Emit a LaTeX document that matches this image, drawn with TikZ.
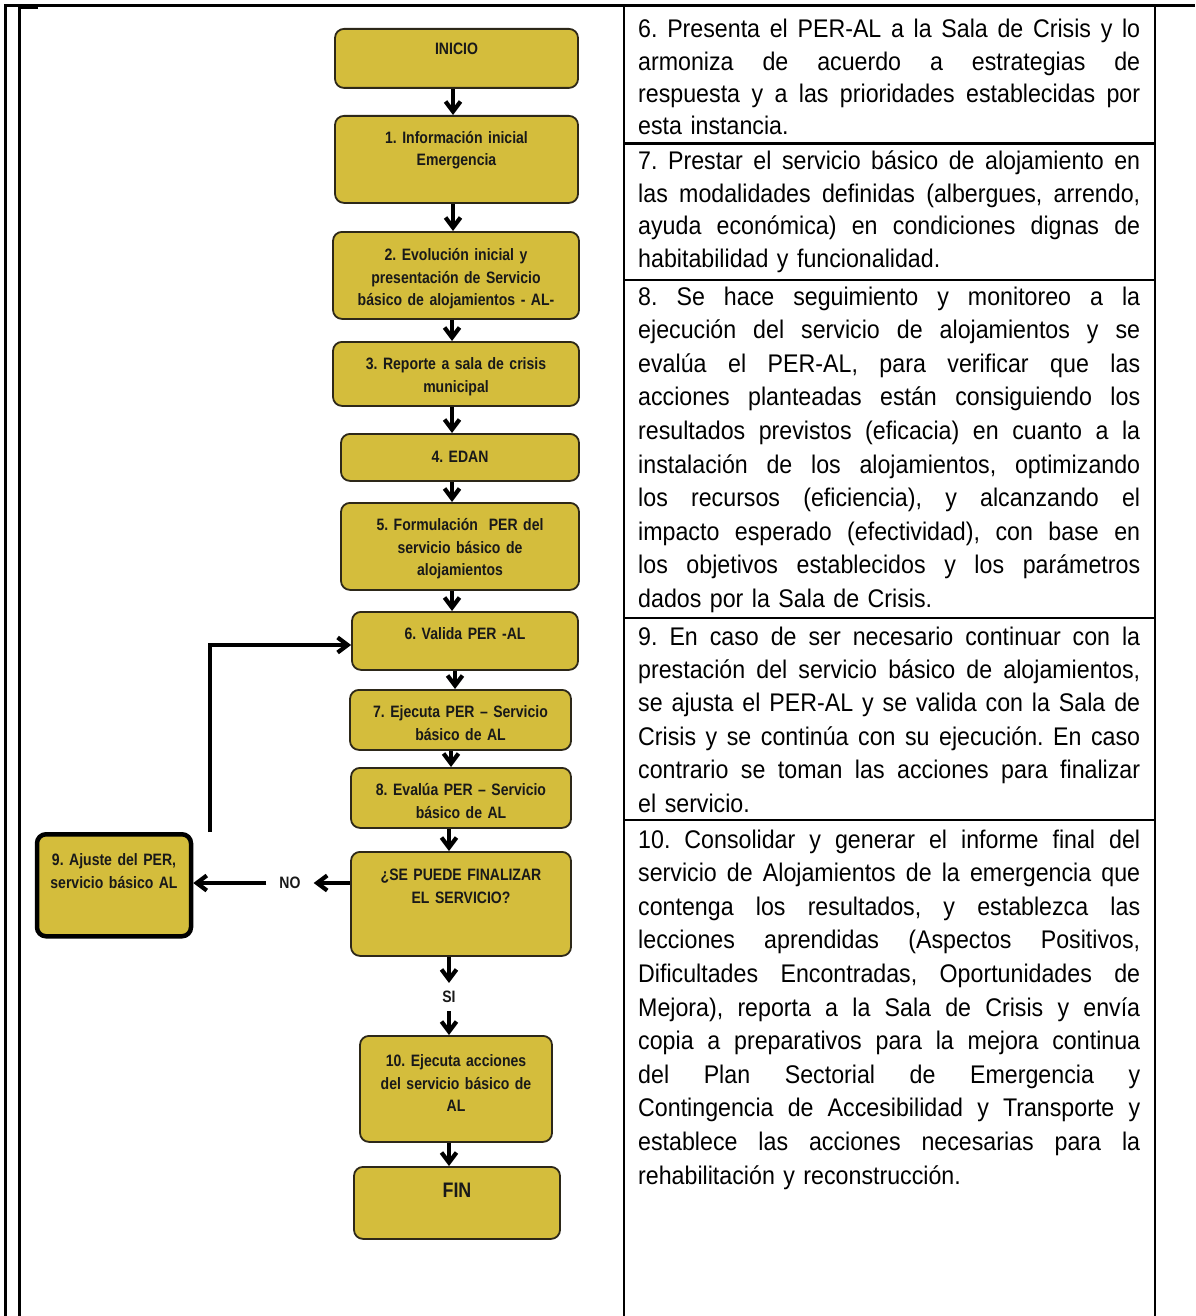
\documentclass[tikz,border=0pt]{standalone}
\usepackage{fontspec}
\setmainfont[FakeStretch=0.91]{Liberation Sans}
\newfontfamily\flowfont[FakeStretch=0.85]{Liberation Sans}
\usetikzlibrary{arrows.meta}
\definecolor{boxfill}{RGB}{212,189,60}
\definecolor{boxline}{RGB}{45,40,25}
\newcommand\jl[1]{\leavevmode\hbox to 502pt{\spaceskip=0.27em plus 1fil minus 0.08em\relax #1}\\}
\tikzset{
  fbox/.style={draw=boxline, fill=boxfill, line width=1.8pt, rounded corners=9pt,
    inner sep=0pt, anchor=north, align=center, text=black!90,
    font=\flowfont\bfseries\frenchspacing\fontsize{16.5}{22.6}\selectfont},
  arr/.style={line width=3.6pt, -{Straight Barb[length=10pt,width=15pt,line width=4.2pt]}},
  tline/.style={line width=3pt},
  cline/.style={line width=2.4pt},
  para/.style={anchor=base west, text width=502pt, inner sep=0pt, align=left,
    font=\frenchspacing\fontsize{25.5}{33.5}\selectfont},
  lab/.style={font=\flowfont\bfseries\fontsize{16.5}{20}\selectfont, text=black!90}
}
\begin{document}
\begin{tikzpicture}[x=1pt,y=-1pt]
\useasboundingbox (0,0) rectangle (1195,1316);
% table frame
\draw[tline] (4,6) -- (1195,6);
\draw[tline] (5,5) -- (5,1316);
\draw[tline] (19,6) -- (19,1316);
\draw[tline] (19,8) -- (38,8);
\draw[cline] (624,6) -- (624,1316);
\draw[cline] (1155,6) -- (1155,1316);
\draw[cline] (624,143.5) -- (1155,143.5);
\draw[cline] (624,280) -- (1155,280);
\draw[cline] (624,618) -- (1155,618);
\draw[cline] (624,820) -- (1155,820);
% right column text
\node[para, font=\frenchspacing\fontsize{25.5}{32.1}\selectfont] (p6) at (638,38) {\jl{6. Presenta el PER-AL a la Sala de Crisis y lo}\jl{armoniza de acuerdo a estrategias de}\jl{respuesta y a las prioridades establecidas por}esta instancia.};
\node[para, font=\frenchspacing\fontsize{25.5}{32.4}\selectfont] (p7) at (638,170) {\jl{7. Prestar el servicio básico de alojamiento en}\jl{las modalidades definidas (albergues, arrendo,}\jl{ayuda económica) en condiciones dignas de}habitabilidad y funcionalidad.};
\node[para, font=\frenchspacing\fontsize{25.5}{33.6}\selectfont] (p8) at (638,305) {\jl{8. Se hace seguimiento y monitoreo a la}\jl{ejecución del servicio de alojamientos y se}\jl{evalúa el PER-AL, para verificar que las}\jl{acciones planteadas están consiguiendo los}\jl{resultados previstos (eficacia) en cuanto a la}\jl{instalación de los alojamientos, optimizando}\jl{los recursos (eficiencia), y alcanzando el}\jl{impacto esperado (efectividad), con base en}\jl{los objetivos establecidos y los parámetros}dados por la Sala de Crisis.};
\node[para, font=\frenchspacing\fontsize{25.5}{33.4}\selectfont] (p9) at (638,645) {\jl{9. En caso de ser necesario continuar con la}\jl{prestación del servicio básico de alojamientos,}\jl{se ajusta el PER-AL y se valida con la Sala de}\jl{Crisis y se continúa con su ejecución. En caso}\jl{contrario se toman las acciones para finalizar}el servicio.};
\node[para, font=\frenchspacing\fontsize{25.5}{33.6}\selectfont] (p10) at (638,848) {\jl{10. Consolidar y generar el informe final del}\jl{servicio de Alojamientos de la emergencia que}\jl{contenga los resultados, y establezca las}\jl{lecciones aprendidas (Aspectos Positivos,}\jl{Dificultades Encontradas, Oportunidades de}\jl{Mejora), reporta a la Sala de Crisis y envía}\jl{copia a preparativos para la mejora continua}\jl{del Plan Sectorial de Emergencia y}\jl{Contingencia de Accesibilidad y Transporte y}\jl{establece las acciones necesarias para la}rehabilitación y reconstrucción.};
% flowchart boxes
\node[fbox, text width=243pt, text height=26pt, text depth=33pt] (n0) at (456.5,28) {INICIO};
\node[fbox, text width=243pt, text height=27.5pt, text depth=59.5pt] (n1) at (456.5,115) {1. Información inicial\\Emergencia};
\node[fbox, text width=246pt, text height=28.5pt, text depth=58.5pt] (n2) at (456,231) {2. Evolución inicial y\\presentación de Servicio\\básico de alojamientos - AL-};
\node[fbox, text width=246pt, text height=27.5pt, text depth=36.5pt] (n3) at (456,341) {3. Reporte a sala de crisis\\municipal};
\node[fbox, text width=238pt, text height=28.5pt, text depth=18.5pt] (n4) at (460,433) {4. EDAN};
\node[fbox, text width=238pt, text height=27.5pt, text depth=59.5pt] (n5) at (460,502) {5. Formulación\ \ PER del\\servicio básico de\\alojamientos};
\node[fbox, text width=226pt, text height=27.5pt, text depth=30.5pt] (n6) at (465,611) {6. Valida PER -AL};
\node[fbox, text width=221pt, text height=27.5pt, text depth=32.5pt] (n7) at (460.5,689) {7. Ejecuta PER – Servicio\\básico de AL};
\node[fbox, text width=220pt, text height=27.5pt, text depth=32.5pt] (n8) at (461,767) {8. Evalúa PER – Servicio\\básico de AL};
\node[fbox, text width=220pt, text height=28.5pt, text depth=75.5pt] (dec) at (461,851) {¿SE PUEDE FINALIZAR\\EL SERVICIO?};
\node[fbox, draw=black, line width=4.5pt, text width=154pt, text height=31.5pt, text depth=70.5pt] (n9) at (114,832) {9. Ajuste del PER,\\servicio básico AL};
\node[fbox, text width=192pt, text height=30.5pt, text depth=75.5pt] (n10) at (456,1035) {10. Ejecuta acciones\\del servicio básico de\\AL};
\node[fbox, text width=206pt, text height=31pt, text depth=41pt, font=\flowfont\bfseries\fontsize{21}{24}\selectfont] (fin) at (457,1166) {FIN};
% labels
\node[lab, inner xsep=13pt, inner ysep=0pt] (no) at (290,883) {NO};
\node[lab, inner xsep=0pt, inner ysep=8pt] (si) at (449,997) {SI};
% arrow columns
\coordinate (c453) at (453,0);
\coordinate (c452) at (452,0);
\coordinate (c455) at (455,0);
\coordinate (c451) at (451,0);
\coordinate (c449) at (449,0);
\coordinate (lp) at (210,645);
% arrows
\draw[arr] (n0.south -| c453) -- (n1.north -| c453);
\draw[arr] (n1.south -| c453) -- (n2.north -| c453);
\draw[arr] (n2.south -| c452) -- (n3.north -| c452);
\draw[arr] (n3.south -| c452) -- (n4.north -| c452);
\draw[arr] (n4.south -| c452) -- (n5.north -| c452);
\draw[arr] (n5.south -| c452) -- (n6.north -| c452);
\draw[arr] (n6.south -| c455) -- (n7.north -| c455);
\draw[arr] (n7.south -| c451) -- (n8.north -| c451);
\draw[arr] (n8.south -| c449) -- (dec.north -| c449);
\draw[arr] (dec.south -| c449) -- (si.north);
\draw[arr] (si.south) -- (n10.north -| c449);
\draw[arr] (n10.south -| c449) -- (fin.north -| c449);
\draw[arr] (dec.west |- no) -- (no.east);
\draw[arr] (no.west) -- (n9.east |- no);
\draw[arr] (n9.north -| lp) |- (n6.west |- lp);
\end{tikzpicture}
\end{document}
